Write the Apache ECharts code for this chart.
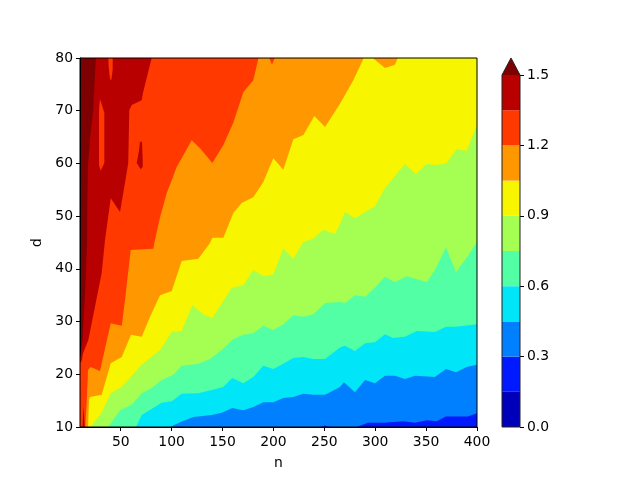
<!DOCTYPE html>
<html>
<head>
<meta charset="utf-8">
<style>html,body{margin:0;padding:0;background:#fff}#c{width:640px;height:480px}</style>
<script src="https://cdn.jsdelivr.net/npm/echarts@6/dist/echarts.min.js"></script>
</head>
<body>
<div id="c"></div>
<script>
const xTicks = [50,100,150,200,250,300,350,400];
const cbLevels = [0,0.15,0.3,0.45,0.6,0.75,0.9,1.05,1.2,1.35,1.5];
const bandColors = ['#0000ba','#0019ff','#007fff','#00e5f7','#52ffa4','#a4ff52','#f7f500','#ff9700','#ff3900','#b90000'];
const overColor = '#7f0000';

const b150 = [[10,23],[12.5,26.5],[15.5,37.3],[17,45.5],[17.3,53],[18,60],[20,65],[23,70],[25.6,80],[26,81],[400,90]];
const b135 = [[10,22.1],[11.7,22.5],[13,24],[18.2,26.5],[24.7,32.8],[31.3,39.2],[34.6,45.5],[40.2,53.4],[49.3,50.8],[54.2,56.3],[57.4,60.1],[58.4,70.1],[60.8,71.1],[70.6,72],[71.9,73.4],[80.4,80],[81,81],[400,90]];
const b120 = [[10,9],[15.2,10],[16.9,16.1],[17.9,20.8],[20.5,21.4],[29.6,20.6],[40.2,29.7],[51,29.2],[54.2,34.1],[59.8,43.6],[82,43.8],[83.7,45.5],[88.6,49.8],[95.2,54.4],[105,59.3],[119.7,64.4],[127.9,62.9],[140,60.1],[150.8,63.5],[160.6,67.7],[170.4,73.5],[180.2,75.8],[185.1,79.8],[185.8,80.6],[194.7,80.6],[198.6,78.7],[202.5,80.6],[400,90]];
const b105 = [[10,9],[17.9,10],[18.8,15.1],[19.8,15.7],[31.3,16.1],[40.2,22.1],[51,23.3],[60.1,27.5],[70.6,27.1],[78.8,30.9],[88.6,35],[100.1,35.8],[109.9,41.5],[126.2,41.9],[137.7,44.9],[140,45.9],[150.8,45.9],[160.6,50.6],[168.8,52.5],[180.2,53.6],[190.1,56.5],[199.9,61],[209.7,58.8],[219.5,64.6],[229.4,65.4],[240.2,69],[250.7,66.9],[265.4,71.3],[278.5,75.8],[288.3,79.8],[289,80.6],[293.9,80.6],[309.6,78.1],[319.4,78.7],[323.4,80.6],[400,90]];
const b090 = [[10,9],[20.5,10],[24.7,11.1],[31.3,12.7],[40.2,16.4],[51,17.6],[70.6,21.8],[88.6,24.6],[100.1,28],[109.9,28.2],[120.3,33.1],[131.1,31.4],[140,30.7],[159,36.4],[170.4,36.9],[180.2,39.8],[190.1,38.6],[199.9,39],[209.7,43.8],[219.5,41.9],[229.4,45.1],[239,45.7],[249.1,47.4],[260.5,46.6],[265.4,48.5],[270.3,50.8],[280.1,49.6],[290,50.8],[299.8,51.9],[309.6,55.3],[329.2,59.9],[340,58],[350.6,59.9],[360.4,59.7],[370.2,60.1],[380,62.7],[389.8,62.4],[400,67.3]];
const b075 = [[10,9],[37.8,10],[49.3,13.2],[60.8,14.2],[70.6,16.4],[80.4,17.4],[90.3,18.9],[101.6,19.9],[109.9,21.6],[126.2,22],[137.7,22.9],[149.2,24.6],[160.6,26.7],[170.4,27.5],[180.2,27.8],[190.1,29.2],[199.9,28.4],[209.7,29.5],[219.5,31.2],[229.4,30.9],[239.2,31.4],[250.7,33.5],[265.4,33.7],[270.3,33.5],[280.1,35],[290,34.7],[299.8,36.4],[309.6,38.5],[319.4,37.5],[330.9,38.6],[350.6,37.5],[358.7,39.8],[369.5,44.1],[379.4,39.4],[389.8,42.1],[400,45.1]];
const b060 = [[10,9],[65,10],[70.6,12.3],[90.3,14.6],[100.1,14.9],[109.9,16.3],[126.2,16.4],[139.4,17],[150.8,17.6],[159.6,19.3],[170.4,18.3],[180.2,19.5],[190.1,21.6],[199.9,21],[209.7,22],[219.5,23.1],[229.4,23.3],[239.2,22.9],[250.7,22.9],[265.4,25.1],[270.3,25.4],[280.1,24.4],[290,25.9],[299.8,26.1],[309.6,27.6],[317.5,26.9],[329.2,27.1],[340.7,28.2],[358.7,28],[369.5,29],[379.4,29],[400,29.5]];
const b045 = [[10,9],[98.4,10],[108.2,10.9],[121.3,11.9],[139.4,12.3],[149.2,12.7],[159.6,13.6],[170.4,13.2],[180.2,13.8],[190.1,14.7],[199.9,14.7],[209.7,15.5],[219.5,15.7],[229.4,16.3],[239.2,16.1],[250.7,16.1],[265.4,17.6],[269.3,18.5],[280.1,16.6],[290,18.9],[299.8,18.3],[309.6,19.7],[319.4,19.7],[329.2,19.1],[339.1,19.7],[358.7,19.5],[369.5,21],[379.4,20.4],[389.8,21.4],[400,21.8]];
const b030 = [[10,9.5],[243.5,9.8],[250.7,10.3],[258,9.8],[265.4,9.8],[281.8,10],[292.9,10.8],[309.6,10.8],[314.5,10.9],[327.3,11.1],[339.1,10.8],[350.6,11.3],[360.4,11.1],[369.5,12],[391,12],[400,12.6]];

const islandA = [[29.6,72.2],[33.9,69.6],[33.9,60.1],[30.3,58.6],[28.7,59.7],[28.7,70.1]];
const islandB = [[37.8,80],[42.1,80],[42.1,77.7],[40.7,75.8],[39.5,76],[38.3,78]];
const islandC = [[68.9,64.1],[70.9,64.1],[71.6,60.6],[71.6,59.3],[69.6,58.9],[65.7,60.1],[68,62.5]];
const islandD = [[12.5,10],[13.4,14],[14.6,10]];

let zc = 1;
function area(data, color){
  return {type:'line',xAxisIndex:0,yAxisIndex:0,data:data,symbol:'none',silent:true,clip:true,z:zc++,
    lineStyle:{width:0,color:color},itemStyle:{color:color},areaStyle:{color:color,opacity:1,origin:'start'}};
}
function island(data, color){
  return {type:'custom',xAxisIndex:0,yAxisIndex:0,data:data,silent:true,clip:true,z:zc++,encode:{x:0,y:1},
    renderItem:function(params,api){
      if(params.dataIndex!==0) return null;
      return {type:'polygon',shape:{points:data.map(p=>api.coord(p))},style:{fill:color}};
    }};
}
const series = [
  area(b150,bandColors[9]),
  area(b135,bandColors[8]),
  island(islandD,bandColors[9]),
  island(islandA,bandColors[8]),
  island(islandB,bandColors[8]),
  island(islandC,bandColors[9]),
  area(b120,bandColors[7]),
  area(b105,bandColors[6]),
  area(b090,bandColors[5]),
  area(b075,bandColors[4]),
  area(b060,bandColors[3]),
  area(b045,bandColors[2]),
  area(b030,bandColors[1])
];
bandColors.forEach((c,i)=>{
  series.push({type:'bar',xAxisIndex:1,yAxisIndex:1,stack:'cb',barWidth:'100%',silent:true,
    data:[+(cbLevels[i+1]-cbLevels[i]).toFixed(2)],itemStyle:{color:c}});
});

const font = {color:'#000',fontFamily:'DejaVu Sans',fontSize:13.9};
const tick = {show:true,length:4,lineStyle:{color:'#000',width:1}};
const line = {show:true,onZero:false,lineStyle:{color:'#000',width:1}};
const chart = echarts.init(document.getElementById('c'),null,{renderer:'canvas'});
chart.setOption({
  animation:false,
  backgroundColor:'#fff',
  grid:[
    {left:80,top:58,width:397,height:369,show:true,backgroundColor:overColor,borderWidth:0},
    {left:502,top:75,width:18,height:352}
  ],
  xAxis:[
    {type:'value',gridIndex:0,min:10,max:400,name:'n',nameLocation:'middle',nameGap:29,nameTextStyle:font,
     axisLine:line,axisTick:Object.assign({},tick,{customValues:xTicks}),
     axisLabel:Object.assign({},font,{customValues:xTicks,margin:8}),splitLine:{show:false}},
    {type:'category',gridIndex:1,data:['cb'],axisLine:{show:false},axisTick:{show:false},axisLabel:{show:false}}
  ],
  yAxis:[
    {type:'value',gridIndex:0,min:10,max:80,interval:10,name:'d',nameLocation:'middle',nameGap:33,nameTextStyle:Object.assign({},font,{padding:[0,0,0,0]}),
     axisLine:line,axisTick:tick,axisLabel:Object.assign({},font,{margin:7,padding:[2,0,0,0]}),splitLine:{show:false}},
    {type:'value',gridIndex:1,position:'right',min:0,max:1.5,interval:0.3,axisLine:{show:false},axisTick:tick,
     axisLabel:Object.assign({},font,{margin:7,padding:[2,0,0,0],formatter:v=>v.toFixed(1)}),splitLine:{show:false}}
  ],
  series:series,
  graphic:[
    {type:'rect',silent:true,z:200,shape:{x:80,y:58,width:397,height:369},style:{fill:null,stroke:'#000',lineWidth:1}},
    {type:'polygon',silent:true,z:199,shape:{points:[[502,75],[511,58],[520,75]]},style:{fill:overColor}},
    {type:'polygon',silent:true,z:200,shape:{points:[[502,427],[502,75],[511,58],[520,75],[520,427]]},style:{fill:null,stroke:'#222',lineWidth:1}}
  ]
});
</script>
</body>
</html>
